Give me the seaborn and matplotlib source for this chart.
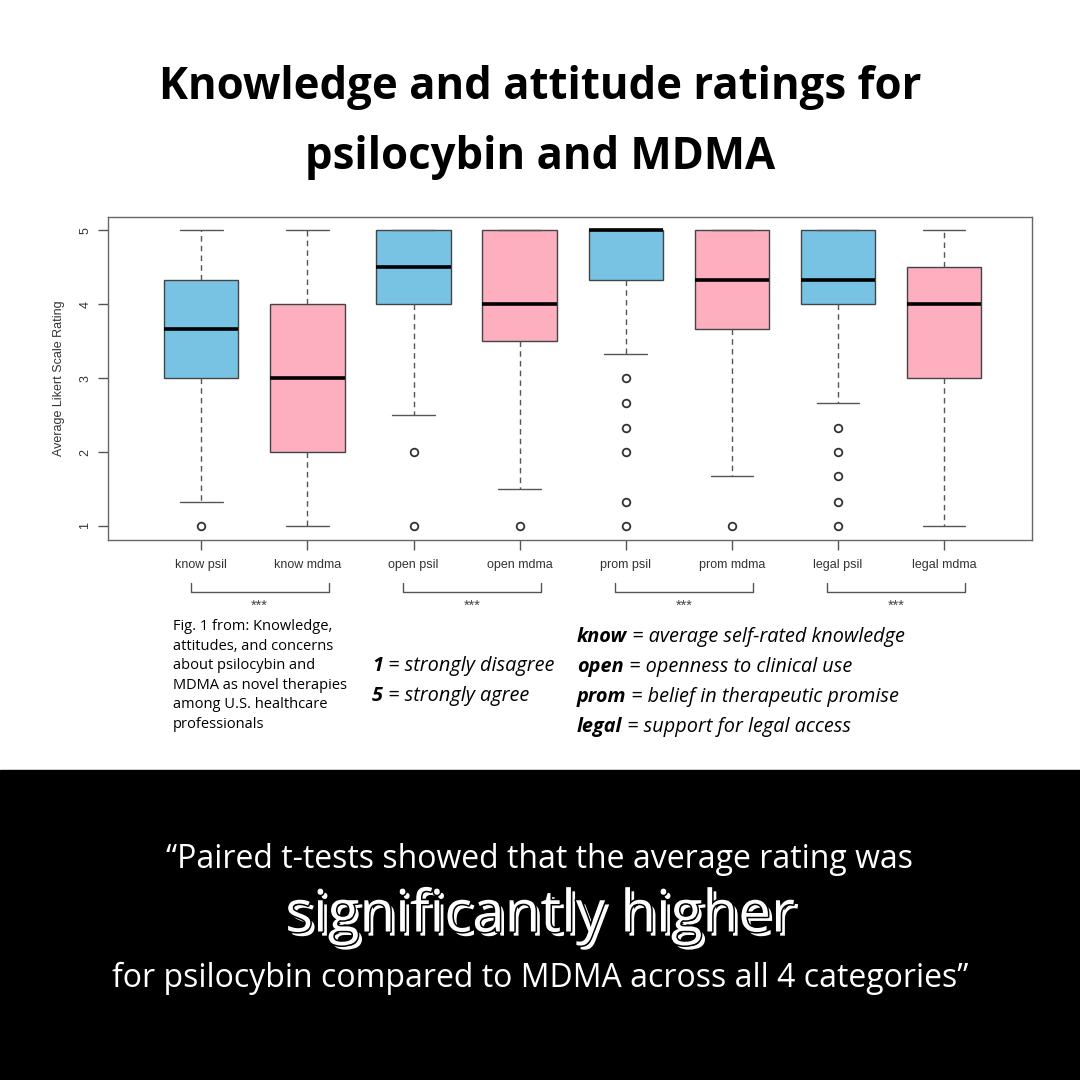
import matplotlib
matplotlib.use("Agg")
import matplotlib.pyplot as plt
import matplotlib.patheffects as pe
from matplotlib.patches import Rectangle
from matplotlib.transforms import blended_transform_factory
import seaborn as sns

# box summaries (Likert 1-5)
groups = ["know psil", "know mdma", "open psil", "open mdma",
          "prom psil", "prom mdma", "legal psil", "legal mdma"]
drug = ["psil", "mdma"] * 4
q1 = [3.0, 2.0, 4.0, 3.5, 4.33, 3.67, 4.0, 3.0]
medians = [3.67, 3.0, 4.5, 4.0, 5.0, 4.33, 4.33, 4.0]
q3 = [4.33, 4.0, 5.0, 5.0, 5.0, 5.0, 5.0, 4.5]
whisker_lo = [1.33, 1.0, 2.5, 1.5, 3.33, 1.67, 2.67, 1.0]
whisker_hi = [5.0, 5.0, 5.0, 5.0, 5.0, 5.0, 5.0, 5.0]
outliers = [[1.0], [], [2.0, 1.0], [1.0],
            [3.0, 2.67, 2.33, 2.0, 1.33, 1.0], [1.0],
            [2.33, 2.0, 1.67, 1.33, 1.0], []]

# paired comparisons (first index of each pair) and significance marks
pairs = [0, 2, 4, 6]
signif = ["***", "***", "***", "***"]

legend_keys = ["know", "open", "prom", "legal"]
legend_desc = ["average self-rated knowledge", "openness to clinical use",
               "belief in therapeutic promise", "support for legal access"]
scale_keys = ["1", "5"]
scale_desc = ["strongly disagree", "strongly agree"]

palette = {"psil": "#78C3E3", "mdma": "#FDAEBF"}

sns.set_style("white")
plt.rcParams["font.family"] = ["Liberation Sans", "DejaVu Sans"]
plt.rcParams["text.color"] = "black"

W = 1080.0
fig = plt.figure(figsize=(10.8, 10.8), dpi=100)


def fy(px):
    return 1 - px / W


def fx(px):
    return px / W


# black band at the bottom
fig.add_artist(Rectangle((0, 0), 1, fy(770), transform=fig.transFigure,
                         color="black", zorder=0))

ax = fig.add_axes([fx(108), fy(540), fx(1032) - fx(108), fy(217) - fy(540)])

stats = []
for i, g in enumerate(groups):
    stats.append(dict(label=g, q1=q1[i], med=medians[i], q3=q3[i],
                      whislo=whisker_lo[i], whishi=whisker_hi[i],
                      fliers=outliers[i]))

edge = "#555555"
bp = ax.bxp(stats, positions=range(len(groups)), widths=0.7, capwidths=0.4,
            patch_artist=True,
            boxprops=dict(edgecolor="#444444", linewidth=1.0),
            medianprops=dict(color="black", linewidth=2.6),
            whiskerprops=dict(color=edge, linewidth=1.0, linestyle=(0, (4, 3))),
            capprops=dict(color=edge, linewidth=1.0),
            flierprops=dict(marker="o", markerfacecolor="none",
                            markeredgecolor="#333333", markersize=5.5,
                            markeredgewidth=1.3))
for patch, d in zip(bp["boxes"], drug):
    patch.set_facecolor(palette[d])

ax.set_xlim(-0.88, 7.83)
ax.set_ylim(0.81, 5.18)
ax.set_yticks([1, 2, 3, 4, 5])
ax.set_yticklabels(["1", "2", "3", "4", "5"], rotation=90, va="center")
ax.set_xticks(range(len(groups)))
ax.set_xticklabels(groups)
ax.tick_params(axis="both", direction="out", length=7, width=1, color=edge,
               labelsize=9, labelcolor="#333333")
ax.tick_params(axis="x", pad=7, bottom=True)
ax.tick_params(axis="y", pad=5, left=True)
for s in ax.spines.values():
    s.set_color("#666666")
    s.set_linewidth(1.0)
ax.set_ylabel("Average Likert Scale Rating", fontsize=9, color="#333333",
              labelpad=10)
ax.grid(False)

# significance brackets under the tick labels
tr = blended_transform_factory(ax.transData, fig.transFigure)
for p, s in zip(pairs, signif):
    x0, x1 = p - 0.1, p + 1.2
    ax.plot([x0, x0, x1, x1], [fy(583), fy(592), fy(592), fy(583)],
            color=edge, lw=1, transform=tr, clip_on=False)
    ax.text((x0 + x1) / 2, fy(606), s, transform=tr, ha="center", va="center",
            fontsize=10.5, color="#444444")

# title
fig.text(0.5, fy(88), "Knowledge and attitude ratings for", ha="center",
         va="center", fontsize=31.5, fontweight="bold", family="Open Sans")
fig.text(0.5, fy(157), "psilocybin and MDMA", ha="center", va="center",
         fontsize=31.5, fontweight="bold", family="Open Sans")

# source caption
fig.text(fx(173), fy(619),
         "Fig. 1 from: Knowledge,\nattitudes, and concerns\nabout psilocybin and\n"
         "MDMA as novel therapies\namong U.S. healthcare\nprofessionals",
         ha="left", va="top", fontsize=10.5, linespacing=1.42,
         family="Open Sans")


def key_line(x, y, key, desc, size):
    t = fig.text(x, y, key, ha="left", va="bottom", fontsize=size,
                 fontweight="bold", style="italic", family="Open Sans")
    ax.annotate(" = " + desc, xy=(1, 0), xycoords=t, ha="left", va="bottom",
                fontsize=size, style="italic", family="Open Sans",
                annotation_clip=False)


for i, (k, d) in enumerate(zip(scale_keys, scale_desc)):
    key_line(fx(372), fy(676 + 30 * i), k, d, 14.3)

for i, (k, d) in enumerate(zip(legend_keys, legend_desc)):
    key_line(fx(577), fy(647 + 30 * i), k, d, 14.3)

# quote in the black band
fig.text(0.5, fy(860), "\u201cPaired t-tests showed that the average rating was",
         ha="center", va="center", fontsize=23, color="white", family="Open Sans")
big = fig.text(0.5, fy(916), "significantly higher", ha="center", va="center",
               fontsize=42, color="white", family="Open Sans")
big.set_path_effects([
    pe.withSimplePatchShadow(offset=(3, -3), shadow_rgbFace="white", alpha=1.0),
    pe.Stroke(linewidth=2.2, foreground="black"),
    pe.Normal(),
])
fig.text(0.5, fy(978),
         "for psilocybin compared to MDMA across all 4 categories\u201d",
         ha="center", va="center", fontsize=23, color="white", family="Open Sans")

fig.savefig("out.png", dpi=100, facecolor="white")
